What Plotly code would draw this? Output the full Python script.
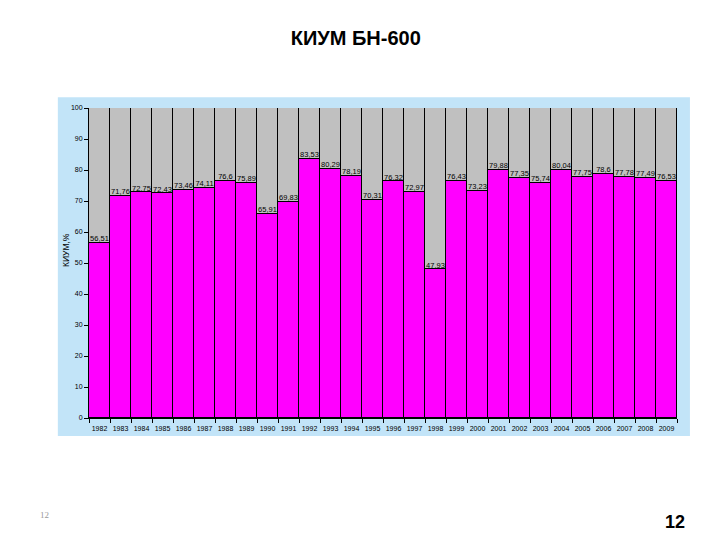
import plotly.graph_objects as go

# Данные КИУМ БН-600 по годам
years = [str(y) for y in range(1982, 2010)]
kium = [56.51, 71.76, 72.75, 72.43, 73.46, 74.11, 76.6, 75.89, 65.91, 69.83,
        83.53, 80.29, 78.19, 70.31, 76.32, 72.97, 47.93, 76.43, 73.23, 79.88,
        77.35, 75.74, 80.04, 77.75, 78.6, 77.78, 77.49, 76.53]
full = 100

rest = [full - v for v in kium]
labels = [f"{v:g}".replace(".", ",") for v in kium]

fig = go.Figure()
fig.add_trace(go.Bar(x=years, y=kium, marker=dict(color="#FF00FF", line=dict(color="black", width=1)),
                     hoverinfo="skip"))
fig.add_trace(go.Bar(x=years, y=rest, marker=dict(color="#C0C0C0", line=dict(color="black", width=1)),
                     hoverinfo="skip"))
fig.add_trace(go.Scatter(x=years, y=kium, mode="text", text=labels, textposition="top center",
                         textfont=dict(size=7.5, color="black", family="Liberation Sans"),
                         cliponaxis=False, hoverinfo="skip"))

fig.update_layout(
    barmode="stack", bargap=0, showlegend=False,
    width=720, height=540,
    margin=dict(l=81, r=51, t=100, b=130),
    paper_bgcolor="white", plot_bgcolor="#C0C0C0",
    font=dict(family="Liberation Sans", color="black"),
    title=dict(text="<b>КИУМ БН-600</b>", x=0.483, xanchor="center", y=0.945, yanchor="middle",
               font=dict(size=20, family="Liberation Sans", color="black")),
    xaxis=dict(type="category", range=[-0.5, len(years) - 0.5], tickson="boundaries",
               ticks="outside", ticklen=4, tickcolor="black", tickangle=0, ticklabelstandoff=4,
               showline=True, linecolor="black", linewidth=1, tickfont=dict(size=7),
               showgrid=False),
    yaxis=dict(range=[0, 100], dtick=10, ticks="outside", ticklen=4, tickcolor="black",
               showline=True, linecolor="black", linewidth=1, tickfont=dict(size=7),
               showgrid=False, zeroline=False),
    shapes=[dict(type="rect", xref="paper", yref="paper", x0=-0.053, x1=1.022, y0=-0.058, y1=1.035,
                 fillcolor="#C2E4F8", line=dict(width=0), layer="below")],
    annotations=[
        dict(text="КИУМ,%", xref="paper", yref="paper", x=-0.039, y=0.542, textangle=-90,
             xanchor="center", yanchor="middle", showarrow=False, font=dict(size=8.5)),
        dict(text="12", xref="paper", yref="paper", x=-0.075, y=-0.313, showarrow=False,
             xanchor="center", yanchor="middle",
             font=dict(size=9, color="#999999", family="Liberation Serif")),
        dict(text="<b>12</b>", xref="paper", yref="paper", x=0.997, y=-0.335, showarrow=False,
             xanchor="center", yanchor="middle",
             font=dict(size=18, color="black", family="Liberation Sans")),
    ],
)

fig.write_html("out.html")
